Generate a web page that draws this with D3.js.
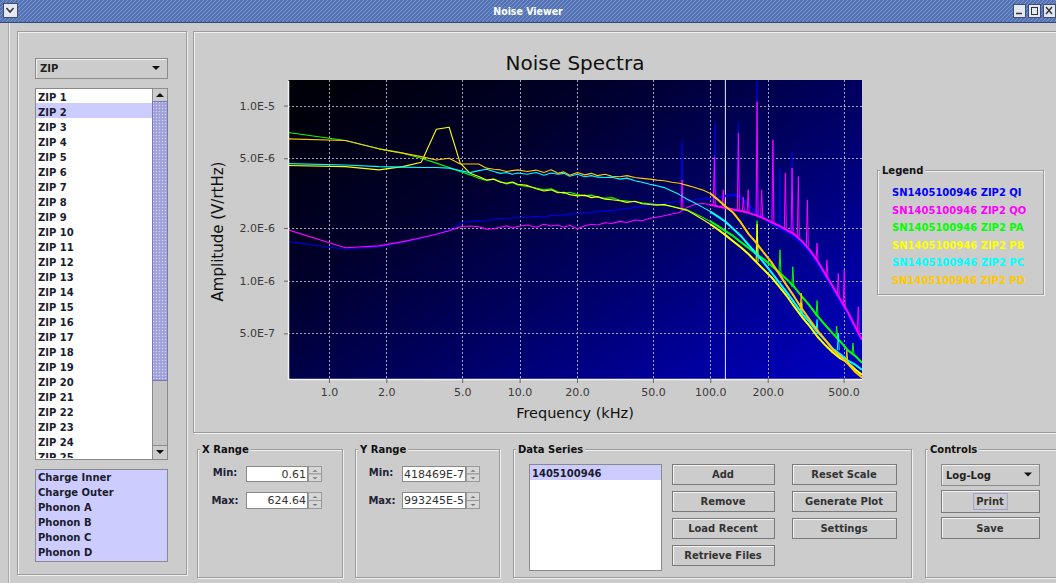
<!DOCTYPE html>
<html><head><meta charset="utf-8">
<script src="https://cdn.jsdelivr.net/npm/d3@7"></script>
<style>html,body{margin:0;padding:0;background:#cccccc;overflow:hidden}svg{display:block}</style>
</head><body>
<script>
// ---------------- DATA ----------------
const freqKHz = [0.61,1.22,1.83,2.44,3.05,3.66,4.27,4.88,5.49,6.10,6.71,7.32,7.93,8.54,9.15,9.76,
  10.98,12.2,13.42,14.64,15.86,17.08,18.3,20.13,21.96,23.79,25.62,28.06,30.5,33.55,36.6,40.26,43.92,48.19,52.46,57.34,62.83,68.93,
  75.64,82.96,90.89,100.04,109.8,120.17,131.76,144.57,158.6,173.85,190.32,208.62,228.75,251.32,275.72,302.56,331.84,364.17,399.55,437.98,480.68,527.04,578.28,624.64];
// amplitudes in units of 1e-6 V/rtHz
const qiAmp = [1.67,1.51,1.56,1.65,1.75,1.84,1.95,2.13,2.18,2.18,2.2,2.24,2.27,2.25,2.28,2.3,
  2.3,2.33,2.31,2.36,2.35,2.38,2.4,2.42,2.44,2.45,2.48,2.5,2.52,2.55,2.58,2.62,2.65,2.68,2.72,2.76,2.8,2.86,
  2.88,2.9,2.95,2.92,2.98,3.05,3.1,3.0,2.7,2.45,2.3,2.12,2.0,1.9,1.78,1.62,1.45,1.25,1.06,0.9,0.75,0.63,0.52,0.45];
const qoAmp = [1.95,1.54,1.58,1.67,1.76,1.84,1.93,2.03,2.05,2.03,1.97,1.98,2.02,2.06,2.0,2.04,
  2.08,2.02,2.1,2.05,2.08,2.02,2.07,1.98,2.06,2.1,2.08,2.14,2.12,2.18,2.15,2.22,2.2,2.27,2.3,2.35,2.4,2.45,
  2.62,2.72,2.76,2.72,2.65,2.6,2.55,2.5,2.44,2.36,2.27,2.16,2.06,1.95,1.84,1.68,1.5,1.3,1.1,0.93,0.78,0.66,0.54,0.46];
const paAmp = [7.01,6.31,5.66,5.35,5.0,4.69,4.43,4.2,4.02,3.85,3.73,3.8,3.68,3.57,3.63,3.52,
  3.45,3.38,3.3,3.35,3.22,3.15,3.2,3.1,3.05,3.08,3.0,2.95,2.98,2.88,2.85,2.82,2.78,2.75,2.72,2.7,2.66,2.6,
  2.54,2.42,2.3,2.18,2.05,1.92,1.8,1.66,1.54,1.42,1.33,1.22,1.12,1.02,0.92,0.81,0.72,0.63,0.56,0.5,0.45,0.4,0.37,0.34];
const pbAmp = [4.55,4.48,4.29,4.48,4.75,7.33,7.52,4.69,4.11,3.93,3.76,3.8,3.65,3.6,3.66,3.55,
  3.5,3.35,3.25,3.3,3.18,3.2,3.1,3.05,3.08,2.98,3.02,2.92,2.9,2.86,2.8,2.84,2.75,2.72,2.7,2.72,2.65,2.58,
  2.52,2.38,2.24,2.1,1.96,1.82,1.68,1.55,1.42,1.28,1.16,1.05,0.93,0.82,0.71,0.62,0.55,0.48,0.43,0.39,0.36,0.34,0.31,0.29];
const pcAmp = [4.66,4.58,4.48,4.45,4.43,4.43,4.39,4.25,4.14,4.25,4.33,4.2,4.1,4.15,4.05,4.12,
  4.05,4.15,4.0,4.12,4.05,4.1,3.95,4.05,3.92,3.98,3.9,3.88,3.9,3.8,3.85,3.72,3.65,3.55,3.48,3.4,3.25,3.1,
  2.92,2.78,2.63,2.48,2.32,2.17,1.98,1.8,1.6,1.43,1.27,1.12,0.98,0.86,0.75,0.65,0.58,0.51,0.46,0.41,0.38,0.35,0.33,0.31];
const pdAmp = [6.45,6.31,5.66,5.35,5.11,4.89,5.0,4.64,4.64,4.64,4.39,4.33,4.29,4.2,4.25,4.29,
  4.2,4.28,4.15,4.3,4.1,4.18,4.0,4.15,4.02,4.1,3.98,4.05,3.95,3.92,3.98,3.88,3.84,3.8,3.75,3.72,3.65,3.6,
  3.5,3.4,3.3,3.15,2.9,2.65,2.45,2.15,1.85,1.65,1.45,1.28,1.1,0.94,0.81,0.69,0.6,0.52,0.46,0.405,0.37,0.335,0.3,0.28];
// narrow line peaks: [freq kHz, base, peak] (1e-6 V/rtHz)
const qiSpikes = [[71.1,2.9,6.2],[106,3.0,7.9],[140.4,3.05,8.0],[176,2.4,13.8],[213,2.1,5.6],[268.4,1.85,5.4],[232,2.0,4.4]];
const qoSpikes = [[71.1,2.55,3.76],[105,2.72,5.1],[117,2.66,3.3],[140.4,2.52,6.98],[149,2.48,3.0],[158,2.45,3.3],[176,2.35,10.5],
  [186,2.3,3.3],[213,2.14,6.37],[247.5,1.97,4.13],[268.4,1.87,4.4],[289.5,1.77,3.93],[322.8,1.56,2.89],[363,1.31,1.64],
  [409,1.05,1.31],[469,0.82,1.1],[504,0.71,1.15],[597,0.51,0.71]];
const paSpikes = [[176,1.4,2.2],[232,1.1,1.5],[271,0.92,1.2],[363,0.63,0.77],[460,0.47,0.55],[560,0.38,0.44]];
const pbSpikes = [[176,1.28,2.1],[300,0.63,0.75]];
const pcSpikes = [[363,0.51,0.6],[469,0.4,0.5]];
const pdSpikes = [[300,0.7,0.85],[520,0.34,0.4]];
const seriesLabels = ['SN1405100946 ZIP2 QI','SN1405100946 ZIP2 QO','SN1405100946 ZIP2 PA','SN1405100946 ZIP2 PB','SN1405100946 ZIP2 PC','SN1405100946 ZIP2 PD'];
const xTicks = [1,2,5,10,20,50,100,200,500];
const xTickLabels = ['1.0','2.0','5.0','10.0','20.0','50.0','100.0','200.0','500.0'];
const yTicks = [1e-5,5e-6,2e-6,1e-6,5e-7];
const yTickLabels = ['1.0E-5','5.0E-6','2.0E-6','1.0E-6','5.0E-7'];
const xDomain = [0.61, 624.64];
const yDomain = [2.74418469e-7, 1.3993245e-5];
const yRangeText = ['2.74418469E-7', '1.3993245E-5'];
const markerKHz = [120];
const zipItems = d3.range(1,26).map(i => 'ZIP ' + i);
const channelItems = ['Charge Inner','Charge Outer','Phonon A','Phonon B','Phonon C','Phonon D'];
const dataSeriesItems = ['1405100946'];

// ---------------- STYLES ----------------
const seriesColors = ['#0000ff','#ff00ff','#00ff00','#ffff00','#00ffff','#ffc800'];
const FONT = '"DejaVu Sans", "Liberation Sans", sans-serif';

const W = 1056, H = 583;
const svg = d3.select('body').append('svg').attr('width', W).attr('height', H).style('font-family', FONT);
const defs = svg.append('defs');
svg.append('rect').attr('width', W).attr('height', H).attr('fill', '#cccccc');

// patterns
const hatch = defs.append('pattern').attr('id','hatch').attr('patternUnits','userSpaceOnUse').attr('width',4).attr('height',4);
hatch.append('rect').attr('width',4).attr('height',4).attr('fill','#5473b5');
hatch.append('path').attr('d','M-1,1 L1,-1 M0,4 L4,0 M3,5 L5,3').attr('stroke','#7c96cc').attr('stroke-width',1);
const thumbPat = defs.append('pattern').attr('id','thumb').attr('patternUnits','userSpaceOnUse').attr('width',3).attr('height',3);
thumbPat.append('rect').attr('width',3).attr('height',3).attr('fill','#a8a8de');
thumbPat.append('rect').attr('width',1).attr('height',1).attr('fill','#d4d4f4');
thumbPat.append('rect').attr('x',1.5).attr('y',1.5).attr('width',1).attr('height',1).attr('fill','#8a8ac6');

function rect(x,y,w,h,fill,stroke){
  return svg.append('rect').attr('x',x+0.5).attr('y',y+0.5).attr('width',w).attr('height',h)
    .attr('fill',fill||'none').attr('stroke',stroke||'none');
}
function txt(x,y,s,opts){
  opts = opts||{};
  return svg.append('text').attr('x',x).attr('y',y).text(s)
    .attr('font-size',opts.size||10).attr('font-weight',opts.weight||'bold')
    .attr('fill',opts.fill||'#222233').attr('text-anchor',opts.anchor||'start');
}
function etched(x,y,w,h,title){
  rect(x+1,y+1,w,h,'none','#f0f0f0');
  rect(x,y,w,h,'none','#9c9c9c');
  if(title){
    const t = txt(x+5,y+4,title,{size:10,fill:'#111'});
    const tw = t.node().getComputedTextLength();
    svg.insert('rect', () => t.node()).attr('x',x+3).attr('y',y-3).attr('width',tw+4).attr('height',8).attr('fill','#cccccc');
  }
}
function button(x,y,w,h,label,focus){
  rect(x,y,w,h,'#cccccc','#7a7a7a');
  svg.append('path').attr('d',`M${x+1.5},${y+h-0.5} V${y+1.5} H${x+w-0.5}`).attr('stroke','#f4f4f4').attr('fill','none');
  const t = txt(x+w/2,y+h/2+4,label,{anchor:'middle',fill:'#333'});
  if(focus){
    const tw = t.node().getComputedTextLength();
    rect(x+w/2-tw/2-3,y+3,tw+6,h-6,'none','#a0a0d0');
  }
}
function combo(x,y,w,h,label){
  rect(x,y,w,h,'#cccccc','#8a8a8a');
  svg.append('path').attr('d',`M${x+1.5},${y+h-0.5} V${y+1.5} H${x+w-0.5}`).attr('stroke','#f0f0f0').attr('fill','none');
  txt(x+5,y+h/2+4,label,{fill:'#222'});
  const ax = x+w-11, ay = y+h/2-2;
  svg.append('path').attr('d',`M${ax-4},${ay} L${ax+4},${ay} L${ax},${ay+4} Z`).attr('fill','#111');
}
function spinnerField(x,y,w,h,value,id){
  rect(x,y,w,h,'#ffffff','#8a8a8a');
  defs.append('clipPath').attr('id',id).append('rect').attr('x',x+1.5).attr('y',y).attr('width',w-2).attr('height',h);
  svg.append('text').attr('clip-path',`url(#${id})`).attr('x',x+w-1).attr('y',y+h/2+4).text(value)
    .attr('font-size',11).attr('fill','#333').attr('text-anchor','end');
  const bx = x+w+1, bw = 13;
  rect(bx,y,bw,h/2,'#d6d6d6','#999');
  rect(bx,y+h/2,bw,h/2,'#d6d6d6','#999');
  svg.append('path').attr('d',`M${bx+4.5},${y+h/4+2} L${bx+9.5},${y+h/4+2} L${bx+7},${y+h/4} Z`).attr('fill','#777');
  svg.append('path').attr('d',`M${bx+4.5},${y+3*h/4} L${bx+9.5},${y+3*h/4} L${bx+7},${y+3*h/4+2} Z`).attr('fill','#777');
}

// ---------------- WINDOW TITLE BAR ----------------
svg.append('rect').attr('x',0).attr('y',0).attr('width',W).attr('height',22).attr('fill','url(#hatch)');
svg.append('line').attr('x1',0).attr('x2',W).attr('y1',22.5).attr('y2',22.5).attr('stroke','#34497a');
txt(528,15,'Noise Viewer',{anchor:'middle',fill:'#ffffff',size:10.5}).style('font-family','"DejaVu Sans Condensed", "DejaVu Sans", sans-serif');
rect(3,3,14,14,'#e4e8f2','#3c4d78');
svg.append('path').attr('d','M6.5,8 L10,12 L13.5,8').attr('stroke','#333').attr('stroke-width',1.5).attr('fill','none');
[1013,1028,1043].forEach((bx,i) => {
  rect(bx,4,12,13,'#e4e8f2','#3c4d78');
  if(i===0) svg.append('line').attr('x1',bx+3).attr('x2',bx+9).attr('y1',13.5).attr('y2',13.5).attr('stroke','#333').attr('stroke-width',1.5);
  if(i===1) rect(bx+3,7,6,7,'none','#333');
  if(i===2) svg.append('path').attr('d',`M${bx+3},7 L${bx+9},14 M${bx+9},7 L${bx+3},14`).attr('stroke','#333').attr('stroke-width',1.4);
});
// window frame
svg.append('line').attr('x1',8.5).attr('x2',8.5).attr('y1',23).attr('y2',H).attr('stroke','#a8a8a8');
svg.append('line').attr('x1',9.5).attr('x2',9.5).attr('y1',23).attr('y2',H).attr('stroke','#eeeeee');

// ---------------- LEFT PANEL ----------------
etched(17,31,169,543);
combo(35,58,132,20,'ZIP');
rect(35,88,132,371,'#ffffff','#8a8a8a');
defs.append('clipPath').attr('id','listClip').append('rect').attr('x',36).attr('y',89).attr('width',116).attr('height',369);
const listG = svg.append('g').attr('clip-path','url(#listClip)');
listG.append('rect').attr('x',36).attr('y',103).attr('width',116).attr('height',15).attr('fill','#ccccff');
listG.selectAll('text').data(zipItems).join('text')
  .attr('x',38).attr('y',(d,i)=>100.5+15*i).text(d=>d)
  .attr('font-size',10).attr('font-weight','bold').attr('fill','#1c1c2c');
rect(152,88,15,371,'#c4c4c4','#8a8a8a');
rect(152,88,15,13,'#cccccc','#8a8a8a');
svg.append('path').attr('d','M156,97 L164,97 L160,93 Z').attr('fill','#111');
rect(152,101,15,279,'url(#thumb)','#7878b8');
rect(152,445,15,14,'#cccccc','#8a8a8a');
svg.append('path').attr('d','M156,450 L164,450 L160,454 Z').attr('fill','#111');
rect(35,469,132,92,'#ccccff','#8a8a8a');
svg.selectAll('text.ch').data(channelItems).join('text').attr('class','ch')
  .attr('x',38).attr('y',(d,i)=>481+15*i).text(d=>d)
  .attr('font-size',10).attr('font-weight','bold').attr('fill','#1c1c2c');

// ---------------- CHART PANEL ----------------
etched(193,31,880,401);

const PL = 288, PT = 80, PW = 574, PH = 299;
const x = d3.scaleLog().domain(xDomain).range([PL, PL+PW]);
const y = d3.scaleLog().domain(yDomain).range([PT+PH, PT]);

const grad = defs.append('linearGradient').attr('id','bg').attr('x1',0).attr('y1',0.1).attr('x2',1).attr('y2',0.9);
[['0','#000008'],['0.3','#00002c'],['0.6','#000066'],['0.85','#00009e'],['1','#0000ba']].forEach(s=>grad.append('stop').attr('offset',s[0]).attr('stop-color',s[1]));
svg.append('rect').attr('x',PL).attr('y',PT).attr('width',PW).attr('height',PH).attr('fill','url(#bg)');

const grid = svg.append('g').attr('stroke','#a4a4c0').attr('stroke-dasharray','2,2').attr('stroke-width',1);
grid.selectAll('line.vx').data(xTicks).join('line').attr('class','vx')
  .attr('x1',d=>Math.round(x(d))+0.5).attr('x2',d=>Math.round(x(d))+0.5).attr('y1',PT).attr('y2',PT+PH);
grid.selectAll('line.hy').data(yTicks).join('line').attr('class','hy')
  .attr('x1',PL).attr('x2',PL+PW).attr('y1',d=>Math.round(y(d))+0.5).attr('y2',d=>Math.round(y(d))+0.5);

defs.append('clipPath').attr('id','plotClip').append('rect').attr('x',PL).attr('y',PT).attr('width',PW).attr('height',PH);
const plotG = svg.append('g').attr('clip-path','url(#plotClip)');

plotG.selectAll('line.mk').data(markerKHz).join('line').attr('class','mk')
  .attr('x1',d=>x(d)).attr('x2',d=>x(d)).attr('y1',PT).attr('y2',PT+PH).attr('stroke','#e8e8ff').attr('stroke-width',1);

const ampArrays = [qiAmp,qoAmp,paAmp,pbAmp,pcAmp,pdAmp];
const spikeArrays = [qiSpikes,qoSpikes,paSpikes,pbSpikes,pcSpikes,pdSpikes];
const series = seriesLabels.map((name,i)=>({
  name, color: seriesColors[i],
  points: freqKHz.map((f,j)=>({f, a: ampArrays[i][j]*1e-6})),
  spikes: spikeArrays[i].map(s=>({f:s[0], base:s[1]*1e-6, peak:s[2]*1e-6}))
}));
const line = d3.line().x(d=>x(d.f)).y(d=>y(d.a));

series.forEach((s,i)=>{
  const g = plotG.append('g').attr('opacity', i===0 ? 0.85 : 1);
  g.append('path').datum(s.points).attr('d',line).attr('fill','none').attr('stroke',s.color).attr('stroke-width',1.1).attr('stroke-linejoin','round');
  g.append('path').datum(s.points.filter(p=>p.f>=100)).attr('d',line).attr('fill','none').attr('stroke',s.color).attr('stroke-width',i===0?2.4:2).attr('stroke-linejoin','round');
  g.selectAll('path.sp').data(s.spikes).join('path').attr('class','sp')
    .attr('d',d=>`M${x(d.f)-1},${y(d.base)} L${x(d.f)},${y(d.peak)} L${x(d.f)+1},${y(d.base)}`)
    .attr('fill','none').attr('stroke',s.color).attr('stroke-width',1);
});

const xAxis = d3.axisBottom(x).tickValues(xTicks).tickFormat((d,i)=>xTickLabels[i]).tickSize(4).tickSizeOuter(0).tickPadding(5);
const xg = svg.append('g').attr('transform',`translate(0,${PT+PH})`).call(xAxis);
const yAxis = d3.axisLeft(y).tickValues(yTicks).tickFormat((d,i)=>yTickLabels[i]).tickSize(4).tickSizeOuter(0).tickPadding(9);
const yg = svg.append('g').attr('transform',`translate(${PL},0)`).call(yAxis);
[xg,yg].forEach(g=>{
  g.select('.domain').attr('stroke','#f4f4f4').attr('stroke-width',1.5);
  g.selectAll('.tick line').attr('stroke','#666');
  g.selectAll('.tick text').attr('font-size',11).attr('fill','#3a3a3a').style('font-family',FONT);
});

svg.append('text').attr('x',PL+PW/2).attr('y',70).attr('text-anchor','middle').attr('font-size',20).attr('fill','#111').text('Noise Spectra');
svg.append('text').attr('x',PL+PW/2).attr('y',418).attr('text-anchor','middle').attr('font-size',14.5).attr('fill','#111').text('Frequency (kHz)');
svg.append('text').attr('transform',`translate(223,${PT+PH/2+2}) rotate(-90)`).attr('text-anchor','middle').attr('font-size',15).attr('fill','#111').text('Amplitude (V/rtHz)');

etched(877,170,166,124,'Legend');
svg.selectAll('text.lg').data(series).join('text').attr('class','lg')
  .attr('x',892).attr('y',(d,i)=>196+17.5*i).text(d=>d.name)
  .attr('font-size',10).attr('font-weight','bold').attr('fill',d=>d.color);

// ---------------- BOTTOM PANELS ----------------
etched(197,449,145,128,'X Range');
txt(225,476,'Min:',{anchor:'middle'});
txt(225,504,'Max:',{anchor:'middle'});
spinnerField(246,466,61,15,String(xDomain[0]),'fx1');
spinnerField(246,492,61,16,String(xDomain[1]),'fx2');

etched(355,449,144,128,'Y Range');
txt(381,476,'Min:',{anchor:'middle'});
txt(382,504,'Max:',{anchor:'middle'});
// the narrow field shows only the tail of the long number
spinnerField(402,466,63,15,yRangeText[0].slice(-9),'fy1');
spinnerField(402,492,63,16,yRangeText[1].slice(-9),'fy2');

etched(513,449,398,128,'Data Series');
rect(529,464,132,106,'#ffffff','#8a8a8a');
svg.append('rect').attr('x',530).attr('y',465).attr('width',131).attr('height',15).attr('fill','#ccccff');
svg.selectAll('text.ds').data(dataSeriesItems).join('text').attr('class','ds')
  .attr('x',532).attr('y',(d,i)=>477+15*i).text(d=>d).attr('font-size',10).attr('font-weight','bold').attr('fill','#1c1c2c');
button(672,464,102,20,'Add');
button(672,491,102,20,'Remove');
button(672,518,102,20,'Load Recent');
button(672,545,102,20,'Retrieve Files');
button(792,464,104,20,'Reset Scale');
button(792,491,104,20,'Generate Plot');
button(792,518,104,20,'Settings');

etched(925,449,150,128,'Controls');
combo(941,464,98,21,'Log-Log');
button(941,490,98,22,'Print',true);
button(941,517,98,21,'Save');
</script>
</body></html>
